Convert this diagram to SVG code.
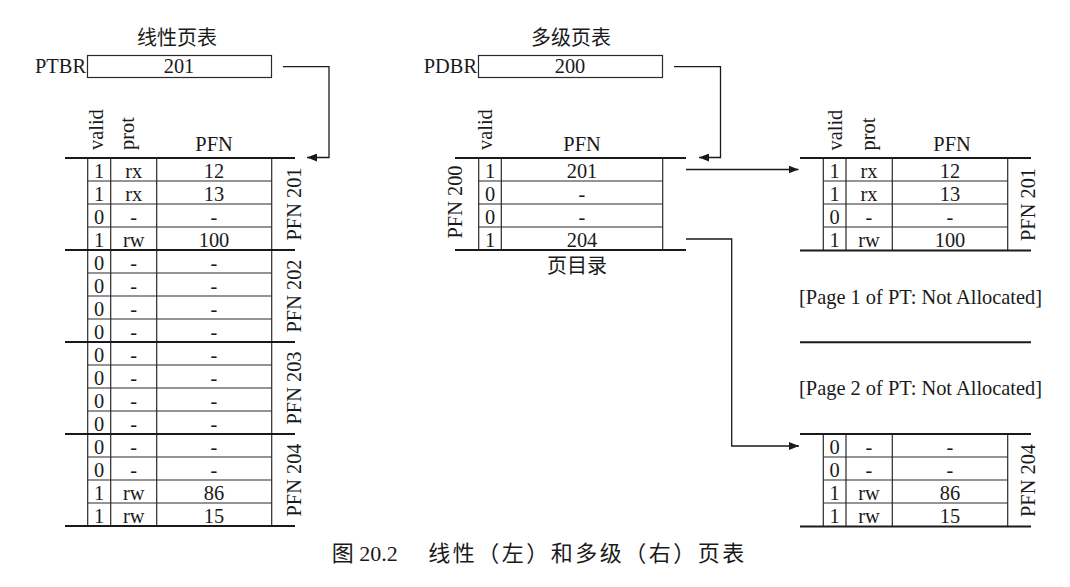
<svg xmlns="http://www.w3.org/2000/svg" width="1070" height="587" viewBox="0 0 1070 587">
  <style>
    text { font-family: "Liberation Serif", "Noto Sans CJK SC", serif; font-size: 20.4px; fill: #1a1a1a; }
    .c { text-anchor: middle; }
    .r { text-anchor: end; }
    .cjk { font-family: "Noto Sans CJK SC", sans-serif; font-size: 20px; }
    .thin { stroke: #2a2a2a; stroke-width: 1.2; fill: none; }
    .thick { stroke: #1a1a1a; stroke-width: 2; fill: none; }
    .reg { stroke: #2a2a2a; stroke-width: 1.2; fill: #fff; }
    .wire { stroke: #1a1a1a; stroke-width: 1.3; fill: none; }
  </style>
  <defs>
    <marker id="head" viewBox="0 0 10 8" refX="10" refY="4" markerWidth="10" markerHeight="8" markerUnits="userSpaceOnUse" orient="auto">
      <path d="M0,0 L10,4 L0,8 Z" fill="#1a1a1a"/>
    </marker>
  </defs>
  <rect width="1070" height="587" fill="#fff"/>

  <!-- linear page table: title and base register -->
  <g id="linear-title">
    <text class="c cjk" x="177" y="45">线性页表</text>
  </g>
  <g id="ptbr">
    <text class="r" x="86" y="73">PTBR</text>
    <rect class="reg" x="87.5" y="55.5" width="184" height="22"/>
    <text class="c" x="179" y="73">201</text>
  </g>

  <!-- linear page table: 16 entries spread over PFN 201..204 -->
  <g id="linear-table">
    <text transform="translate(102.5,150) rotate(-90)">valid</text>
    <text transform="translate(133.5,150) rotate(-90)">prot</text>
    <text class="c" x="214" y="151">PFN</text>
    <path class="thin" d="M87.7,158V526M110.7,158V526M156.7,158V526M271.7,158V526"/>
    <path class="thin" d="M87.7,181H271.7M87.7,204H271.7M87.7,227H271.7M87.7,273H271.7M87.7,296H271.7M87.7,319H271.7M87.7,365H271.7M87.7,388H271.7M87.7,411H271.7M87.7,457H271.7M87.7,480H271.7M87.7,503H271.7"/>
    <path class="thick" d="M65,158H295M65,250H295M65,342H295M65,434H295M65,526H295"/>
    <g class="c">
      <text x="99" y="177.5">1</text><text x="133.7" y="177.5">rx</text><text x="214" y="177.5">12</text>
      <text x="99" y="200.5">1</text><text x="133.7" y="200.5">rx</text><text x="214" y="200.5">13</text>
      <text x="99" y="223.5">0</text><text x="133.7" y="223.5">-</text><text x="214" y="223.5">-</text>
      <text x="99" y="246.5">1</text><text x="133.7" y="246.5">rw</text><text x="214" y="246.5">100</text>
      <text x="99" y="269.5">0</text><text x="133.7" y="269.5">-</text><text x="214" y="269.5">-</text>
      <text x="99" y="292.5">0</text><text x="133.7" y="292.5">-</text><text x="214" y="292.5">-</text>
      <text x="99" y="315.5">0</text><text x="133.7" y="315.5">-</text><text x="214" y="315.5">-</text>
      <text x="99" y="338.5">0</text><text x="133.7" y="338.5">-</text><text x="214" y="338.5">-</text>
      <text x="99" y="361.5">0</text><text x="133.7" y="361.5">-</text><text x="214" y="361.5">-</text>
      <text x="99" y="384.5">0</text><text x="133.7" y="384.5">-</text><text x="214" y="384.5">-</text>
      <text x="99" y="407.5">0</text><text x="133.7" y="407.5">-</text><text x="214" y="407.5">-</text>
      <text x="99" y="430.5">0</text><text x="133.7" y="430.5">-</text><text x="214" y="430.5">-</text>
      <text x="99" y="453.5">0</text><text x="133.7" y="453.5">-</text><text x="214" y="453.5">-</text>
      <text x="99" y="476.5">0</text><text x="133.7" y="476.5">-</text><text x="214" y="476.5">-</text>
      <text x="99" y="499.5">1</text><text x="133.7" y="499.5">rw</text><text x="214" y="499.5">86</text>
      <text x="99" y="522.5">1</text><text x="133.7" y="522.5">rw</text><text x="214" y="522.5">15</text>
    </g>
    <g class="c">
      <text transform="translate(301,204) rotate(-90)">PFN 201</text>
      <text transform="translate(301,296) rotate(-90)">PFN 202</text>
      <text transform="translate(301,388) rotate(-90)">PFN 203</text>
      <text transform="translate(301,480) rotate(-90)">PFN 204</text>
    </g>
  </g>

  <!-- multi-level page table: title and base register -->
  <g id="multi-title">
    <text class="c cjk" x="571" y="45">多级页表</text>
  </g>
  <g id="pdbr">
    <text class="r" x="477" y="73">PDBR</text>
    <rect class="reg" x="478.5" y="55.5" width="184" height="22"/>
    <text class="c" x="570" y="73">200</text>
  </g>

  <!-- page directory in PFN 200 -->
  <g id="page-directory">
    <text transform="translate(491.5,150) rotate(-90)">valid</text>
    <text class="c" x="582" y="151">PFN</text>
    <path class="thin" d="M478.7,158V250M501.3,158V250M662.7,158V250"/>
    <path class="thin" d="M478.7,181H662.7M478.7,204H662.7M478.7,227H662.7"/>
    <path class="thick" d="M455,158H686M455,250H686"/>
    <g class="c">
      <text x="490" y="177.5">1</text><text x="582" y="177.5">201</text>
      <text x="490" y="200.5">0</text><text x="582" y="200.5">-</text>
      <text x="490" y="223.5">0</text><text x="582" y="223.5">-</text>
      <text x="490" y="246.5">1</text><text x="582" y="246.5">204</text>
      <text transform="translate(461.5,202) rotate(-90)">PFN 200</text>
    </g>
    <text class="c cjk" x="577" y="273">页目录</text>
  </g>

  <!-- page of the page table in PFN 201 -->
  <g id="pt-page-201">
    <text transform="translate(841.5,150.5) rotate(-90)">valid</text>
    <text transform="translate(875,150.5) rotate(-90)">prot</text>
    <text class="c" x="952" y="151">PFN</text>
    <path class="thin" d="M823.3,158V250.5M846,158V250.5M892.3,158V250.5M1007.7,158V250.5"/>
    <path class="thin" d="M823.3,181H1007.7M823.3,204H1007.7M823.3,227H1007.7"/>
    <path class="thick" d="M800,158H1031M800,250.5H1031"/>
    <g class="c">
      <text x="834.7" y="177.5">1</text><text x="869" y="177.5">rx</text><text x="950" y="177.5">12</text>
      <text x="834.7" y="200.5">1</text><text x="869" y="200.5">rx</text><text x="950" y="200.5">13</text>
      <text x="834.7" y="223.5">0</text><text x="869" y="223.5">-</text><text x="950" y="223.5">-</text>
      <text x="834.7" y="246.5">1</text><text x="869" y="246.5">rw</text><text x="950" y="246.5">100</text>
      <text transform="translate(1035,204.5) rotate(-90)">PFN 201</text>
    </g>
  </g>

  <!-- pages of the page table that are not allocated -->
  <g id="unallocated">
    <text x="799" y="303.5">[Page 1 of PT: Not Allocated]</text>
    <path class="thick" d="M800,342.3H1031"/>
    <text x="799" y="395">[Page 2 of PT: Not Allocated]</text>
  </g>

  <!-- page of the page table in PFN 204 -->
  <g id="pt-page-204">
    <path class="thin" d="M823.3,434V526.5M846,434V526.5M892.3,434V526.5M1007.7,434V526.5"/>
    <path class="thin" d="M823.3,457H1007.7M823.3,480H1007.7M823.3,503H1007.7"/>
    <path class="thick" d="M800,434H1031M800,526.5H1031"/>
    <g class="c">
      <text x="834.7" y="453.5">0</text><text x="869" y="453.5">-</text><text x="950" y="453.5">-</text>
      <text x="834.7" y="476.5">0</text><text x="869" y="476.5">-</text><text x="950" y="476.5">-</text>
      <text x="834.7" y="499.5">1</text><text x="869" y="499.5">rw</text><text x="950" y="499.5">86</text>
      <text x="834.7" y="522.5">1</text><text x="869" y="522.5">rw</text><text x="950" y="522.5">15</text>
      <text transform="translate(1035,480.5) rotate(-90)">PFN 204</text>
    </g>
  </g>

  <!-- pointers from registers and directory entries -->
  <g id="connectors">
    <path class="wire" marker-end="url(#head)" d="M283,66.7H329V157.5H307"/>
    <path class="wire" marker-end="url(#head)" d="M674,66.7H720.5V157.5H699"/>
    <path class="wire" marker-end="url(#head)" d="M686,169.5H798.5"/>
    <path class="wire" marker-end="url(#head)" d="M686,239H731.7V446H799"/>
  </g>

  <!-- figure caption -->
  <g id="caption">
    <text x="331.7" y="561" style="font-size:22px">图 20.2</text>
    <text class="cjk" x="428.3" y="561" style="font-size:22px;letter-spacing:2.5px">线性（左）和多级（右）页表</text>
  </g>
</svg>
